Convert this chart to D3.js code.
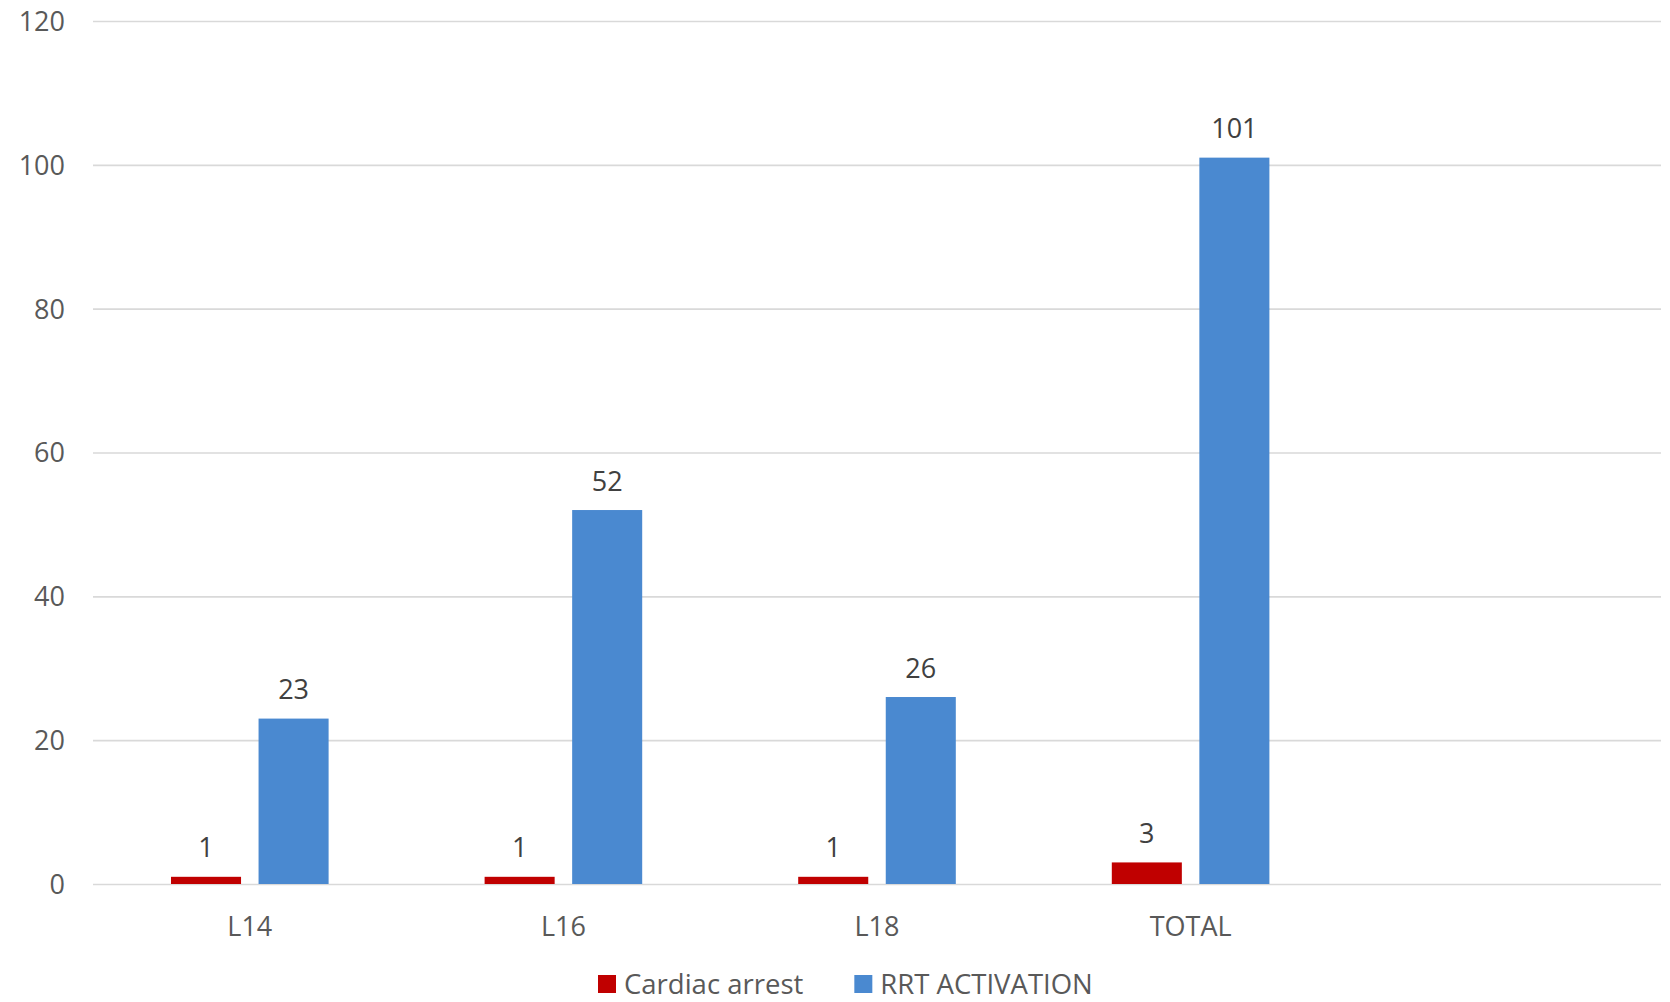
<!DOCTYPE html>
<html lang="en">
<head>
    <meta charset="UTF-8">
    <title>RRT activation</title>
    <style>
        body{ margin:0; background:#fff; }
        svg text{ font-family:"Open Sans", sans-serif; }
    </style>
    <script src="https://cdn.jsdelivr.net/npm/d3@7"></script>
</head>
<body>
<svg width="1670" height="1002"></svg>
<script type="text/javascript">
    // data
    var categories = ["L14", "L16", "L18", "TOTAL"];
    var seriesNames = ["Cardiac arrest", "RRT ACTIVATION"];
    var cardiacArrest = [1, 1, 1, 3];
    var rrtActivation = [23, 52, 26, 101];
    var yTicks = [0, 20, 40, 60, 80, 100, 120];
    var colors = ["#C00000", "#4A89D0"];

    var width = 1670;
    var height = 1002;
    var margin = {left: 93, right: 9, top: 21, bottom: 118};
    var plotW = width - margin.left - margin.right;
    var plotH = height - margin.top - margin.bottom;

    var svg = d3.select("svg")
        .attr("width", width)
        .attr("height", height);

    var g = svg.append("g")
        .attr("transform", "translate(" + margin.left + "," + margin.top + ")");

    // the source sheet has one empty row after TOTAL, so there is a 5th empty slot
    var x0 = d3.scaleBand()
        .domain(categories.concat([""]))
        .range([0, plotW]);

    var x1 = d3.scaleBand()
        .domain(seriesNames)
        .range([78, x0.bandwidth() - 78])
        .paddingInner(0.2);

    var y = d3.scaleLinear()
        .domain([0, 120])
        .range([plotH, 0]);

    // gridlines + y labels
    var yAxis = g.append("g")
        .call(d3.axisLeft(y).tickValues(yTicks).tickSize(-plotW).tickPadding(28));
    yAxis.select(".domain").remove();
    yAxis.selectAll("line")
        .attr("stroke", "#d9d9d9")
        .attr("stroke-width", 1.6);
    yAxis.selectAll("text")
        .attr("fill", "#595959")
        .attr("font-size", 27)
        .attr("dy", "0.35em");

    // category labels
    var xAxis = g.append("g")
        .attr("transform", "translate(0," + plotH + ")")
        .call(d3.axisBottom(x0).tickSize(0));
    xAxis.select(".domain").remove();
    xAxis.selectAll(".tick text")
        .attr("fill", "#595959")
        .attr("font-size", 27)
        .attr("dy", null)
        .attr("y", 52);

    var rows = categories.map(function(c, i){
        return {cat: c, values: [cardiacArrest[i], rrtActivation[i]]};
    });

    var groups = g.selectAll(".cat")
        .data(rows)
        .enter()
        .append("g")
        .attr("class", "cat")
        .attr("transform", function(d){ return "translate(" + x0(d.cat) + ",0)"; });

    var cells = groups.selectAll(".bar")
        .data(function(d){
            return d.values.map(function(v, j){ return {name: seriesNames[j], value: v, idx: j}; });
        })
        .enter();

    cells.append("rect")
        .attr("class", "bar")
        .attr("x", function(d){ return x1(d.name); })
        .attr("y", function(d){ return y(d.value); })
        .attr("width", x1.bandwidth())
        .attr("height", function(d){ return plotH - y(d.value); })
        .attr("fill", function(d){ return colors[d.idx]; });

    // value labels
    cells.append("text")
        .attr("x", function(d){ return x1(d.name) + x1.bandwidth() / 2; })
        .attr("y", function(d){ return y(d.value) - 19.5; })
        .attr("text-anchor", "middle")
        .attr("font-size", 27)
        .attr("fill", "#404040")
        .text(function(d){ return d.value; });

    // legend (kept a few px higher so the text box stays inside the page)
    var legend = svg.append("g").attr("transform", "translate(598,975)");
    var lx = 0;
    seriesNames.forEach(function(name, i){
        var item = legend.append("g").attr("transform", "translate(" + lx + ",0)");
        item.append("rect")
            .attr("width", 18)
            .attr("height", 18)
            .attr("fill", colors[i]);
        var t = item.append("text")
            .attr("x", 26)
            .attr("y", 18.5)
            .attr("font-size", 27.5)
            .attr("fill", "#595959")
            .text(name);
        lx += 26 + t.node().getComputedTextLength() + 51;
    });
</script>
</body>
</html>
